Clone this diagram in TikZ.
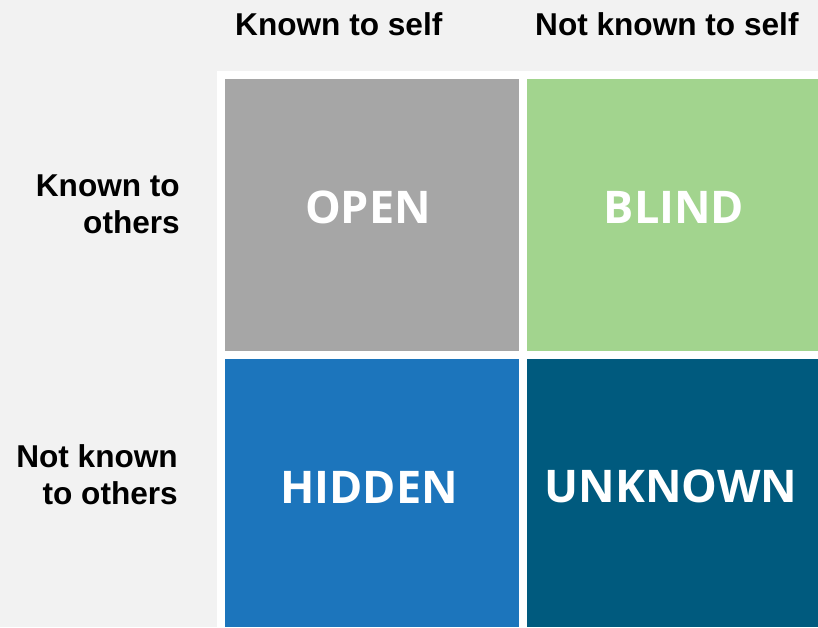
\documentclass[tikz,border=0pt]{standalone}
\usepackage{fontspec}
\setmainfont{Liberation Sans}
\newfontfamily\boxfont{Open Sans}
\definecolor{bgc}{HTML}{F2F2F2}
\definecolor{openc}{HTML}{A6A6A6}
\definecolor{blindc}{HTML}{A2D48E}
\definecolor{hiddenc}{HTML}{1C75BC}
\definecolor{unknownc}{HTML}{005A7E}
\begin{document}
\begin{tikzpicture}[x=1pt,y=1pt,
  quad/.style={inner sep=0pt,outer sep=0pt,anchor=south west},
  qlabel/.style={text=white,font=\boxfont\fontsize{45}{50}\selectfont\bfseries,inner sep=0pt,anchor=base},
  hlabel/.style={text=black,font=\fontsize{31.6}{37}\selectfont\bfseries,inner sep=0pt},
  vlabel/.style={text=black,font=\fontsize{31.6}{37}\selectfont\bfseries,inner sep=0pt,align=right,anchor=base east}]
\useasboundingbox (0,0) rectangle (818,627);
\fill[bgc] (0,0) rectangle (818,627);
\fill[white] (217,0) rectangle (818,556);
\node[quad,fill=openc,minimum width=294pt,minimum height=272pt] (open) at (225,276) {};
\node[quad,fill=blindc,minimum width=291pt,minimum height=272pt] (blind) at (527,276) {};
\node[quad,fill=hiddenc,minimum width=294pt,minimum height=268pt] (hidden) at (225,0) {};
\node[quad,fill=unknownc,minimum width=291pt,minimum height=268pt] (unknown) at (527,0) {};
\node[qlabel] (openl) at (368,403) {OPEN};
\node[qlabel] (blindl) at (674,403) {BLIND};
\node[qlabel] (hiddenl) at (369,124) {HIDDEN};
\node[qlabel] (unknownl) at (671,125) {UNKNOWN};
\node[hlabel,anchor=base west] (kself) at (235,591) {Known to self};
\node[hlabel,anchor=base west] (nkself) at (535,591) {Not known to self};
\node[vlabel] (kothers) at (180,393) {Known to\\others};
\node[vlabel] (nkothers) at (178,123) {Not known\\to others};
\end{tikzpicture}
\end{document}
